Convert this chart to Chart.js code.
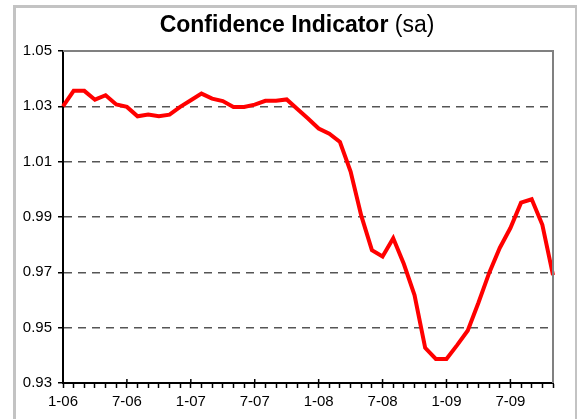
<!DOCTYPE html>
<html>
<head>
<meta charset="utf-8">
<script src="https://cdn.jsdelivr.net/npm/chart.js@4/dist/chart.umd.min.js"></script>
<style>
  html, body { margin: 0; padding: 0; background: #fff; }
  #wrap { width: 577px; height: 419px; position: relative; }
</style>
</head>
<body>
<div id="wrap"><canvas id="chart" width="577" height="419"></canvas></div>
<script>
// monthly, Jan 2006 .. Nov 2009
const months = [
    '1-06', '2-06', '3-06', '4-06', '5-06', '6-06', '7-06', '8-06', '9-06', '10-06', '11-06', '12-06',
    '1-07', '2-07', '3-07', '4-07', '5-07', '6-07', '7-07', '8-07', '9-07', '10-07', '11-07', '12-07',
    '1-08', '2-08', '3-08', '4-08', '5-08', '6-08', '7-08', '8-08', '9-08', '10-08', '11-08', '12-08',
    '1-09', '2-09', '3-09', '4-09', '5-09', '6-09', '7-09', '8-09', '9-09', '10-09', '11-09'
]

const confidence = [
    1.030, 1.0356, 1.0356, 1.0324, 1.034, 1.0307, 1.0298, 1.0264, 1.027, 1.0264, 1.027, 1.0298,
    1.0322, 1.0346, 1.0328, 1.0319, 1.0298, 1.0298, 1.0306, 1.032, 1.032, 1.0325, 1.029, 1.0256,
    1.022, 1.0201, 1.0171, 1.0064, 0.9905, 0.978, 0.9757, 0.9823, 0.973, 0.9618, 0.9427, 0.9387,
    0.9387, 0.9437, 0.949, 0.959, 0.9697, 0.9788, 0.986, 0.9952, 0.9964, 0.9872, 0.969
]

const yTicks = [0.93, 0.95, 0.97, 0.99, 1.01, 1.03, 1.05]

const titleBold = 'Confidence Indicator'
const titleRest = '(sa)'

const FONT = '"Liberation Sans", Arial, sans-serif'

// outer frame, title, plot border and the long month ticks
const decorations = {
    id: 'decorations',
    beforeDraw(chart) {
        const ctx = chart.ctx
        ctx.save()
        ctx.fillStyle = '#fff'
        ctx.fillRect(0, 0, chart.width, chart.height)
        ctx.strokeStyle = '#c3c3c3'
        ctx.lineWidth = 3
        ctx.strokeRect(14.5, 6.5, 562, 430)
        ctx.restore()
    },
    afterDraw(chart) {
        const ctx = chart.ctx
        const {left, right, top, bottom} = chart.chartArea
        ctx.save()
        // title
        ctx.fillStyle = '#000'
        ctx.textBaseline = 'alphabetic'
        ctx.font = 'bold 23px ' + FONT
        const w1 = ctx.measureText(titleBold + ' ').width
        ctx.font = '23px ' + FONT
        const w2 = ctx.measureText(titleRest).width
        let x = 297 - (w1 + w2) / 2
        ctx.font = 'bold 23px ' + FONT
        ctx.fillText(titleBold, x, 32)
        ctx.font = '23px ' + FONT
        ctx.fillText(titleRest, x + w1, 32)

        // top and right border of plot
        ctx.strokeStyle = '#808080'
        ctx.lineWidth = 2
        ctx.beginPath()
        ctx.moveTo(left, top)
        ctx.lineTo(right, top)
        ctx.lineTo(right, bottom)
        ctx.stroke()

        // major ticks cross the axis
        const xs = chart.scales.x
        ctx.strokeStyle = '#000'
        ctx.lineWidth = 1.5
        ctx.beginPath()
        months.forEach((m, i) => {
            if (i % 6 === 0) {
                const px = xs.getPixelForValue(i)
                ctx.moveTo(px, bottom - 4)
                ctx.lineTo(px, bottom)
            }
        })
        ctx.stroke()
        ctx.restore()
    }
}

const ctx = document.getElementById('chart').getContext('2d')
new Chart(ctx, {
    type: 'line',
    data: {
        labels: months,
        datasets: [{
            label: 'Confidence Indicator',
            data: confidence,
            borderColor: '#ff0000',
            borderWidth: 4,
            pointRadius: 0,
            tension: 0,
            fill: false
        }]
    },
    options: {
        responsive: false,
        animation: false,
        layout: {
            padding: {left: 0, top: 51, right: 24, bottom: 0}
        },
        plugins: {
            legend: {display: false},
            tooltip: {enabled: false},
            title: {display: false}
        },
        scales: {
            x: {
                type: 'category',
                offset: false,
                afterFit: (scale) => { scale.height = 36 },
                grid: {
                    drawOnChartArea: false,
                    drawTicks: true,
                    tickLength: 5,
                    tickColor: '#000',
                    tickWidth: 1.5
                },
                border: {display: true, color: '#000', width: 2},
                ticks: {
                    autoSkip: false,
                    maxRotation: 0,
                    minRotation: 0,
                    padding: 5,
                    color: '#000',
                    font: {family: FONT, size: 15},
                    callback: (val, idx) => idx % 6 === 0 ? months[idx] : ''
                }
            },
            y: {
                min: 0.93,
                max: 1.05,
                afterFit: (scale) => { scale.width = 63 },
                afterBuildTicks: (scale) => {
                    scale.ticks = yTicks.map(v => ({value: v}))
                },
                grid: {
                    color: (c) => {
                        const v = c.tick ? c.tick.value : null
                        return (v === 0.93 || v === 1.05) ? 'rgba(0,0,0,0)' : '#555'
                    },
                    lineWidth: 1.5,
                    tickLength: 5,
                    tickColor: '#000',
                    tickWidth: 1.5
                },
                border: {display: true, color: '#000', width: 2, dash: [8, 6]},
                ticks: {
                    padding: 6,
                    color: '#000',
                    font: {family: FONT, size: 15},
                    callback: (v) => Number(v).toFixed(2)
                }
            }
        }
    },
    plugins: [decorations]
})
</script>
</body>
</html>
